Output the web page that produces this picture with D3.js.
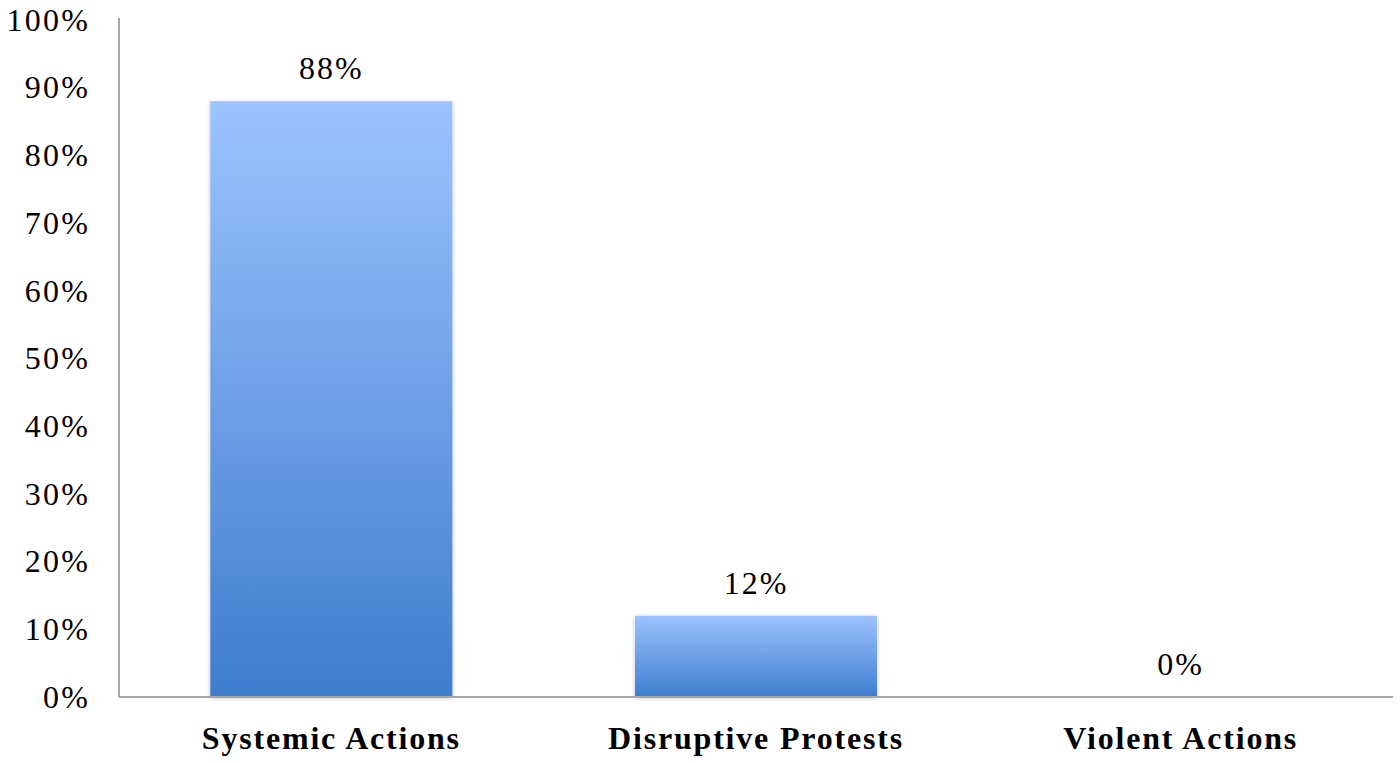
<!DOCTYPE html>
<html><head><meta charset="utf-8">
<script src="https://cdn.jsdelivr.net/npm/d3@7"></script>
<style>body{margin:0;background:#fff;}svg{display:block;}</style>
</head><body>
<svg id="c" width="1400" height="763"></svg>
<script>
const categories = ["Systemic Actions", "Disruptive Protests", "Violent Actions"];
const values = [0.88, 0.12, 0.0];
const yTicks = [0, 0.1, 0.2, 0.3, 0.4, 0.5, 0.6, 0.7, 0.8, 0.9, 1.0];

const svg = d3.select("#c");
const m = {left: 119, right: 1393, top: 20, bottom: 697};
const font = "'Liberation Serif', 'Times New Roman', serif";

const x = d3.scaleBand().domain(categories).range([m.left, m.right]).paddingInner(0.43).paddingOuter(0.215);
const y = d3.scaleLinear().domain([0, 1]).range([m.bottom, m.top]);

const defs = svg.append("defs");
const g = defs.append("linearGradient").attr("id", "bg").attr("x1", 0).attr("y1", 0).attr("x2", 0).attr("y2", 1);
g.append("stop").attr("offset", "0%").attr("stop-color", "#9dc3ff");
g.append("stop").attr("offset", "100%").attr("stop-color", "#3e7dce");
const f = defs.append("filter").attr("id", "sh").attr("x", "-10%").attr("y", "-10%").attr("width", "120%").attr("height", "120%");
f.append("feDropShadow").attr("dx", 0).attr("dy", 1).attr("stdDeviation", 2).attr("flood-color", "#000").attr("flood-opacity", 0.25);

// bars
svg.append("g").selectAll("rect").data(values).join("rect")
  .attr("x", (d, i) => x(categories[i]))
  .attr("y", d => y(d))
  .attr("width", x.bandwidth())
  .attr("height", d => y(0) - y(d))
  .attr("fill", "url(#bg)")
  .attr("filter", "url(#sh)")
  .style("display", d => d > 0 ? null : "none");

// axes
const yAxis = d3.axisLeft(y).tickValues(yTicks).tickFormat(d3.format(".0%")).tickSize(0).tickPadding(29);
const ya = svg.append("g").attr("transform", `translate(${m.left},0)`).call(yAxis);
ya.select(".domain").attr("d", `M0,${m.top - 2}V${m.bottom}`).attr("stroke", "#a6a6a6").attr("stroke-width", 2);
ya.selectAll("text").attr("font-family", font).attr("font-size", 32).attr("letter-spacing", 2.2).attr("fill", "#000");

const xAxis = d3.axisBottom(x).tickSize(0).tickPadding(29);
const xa = svg.append("g").attr("transform", `translate(0,${m.bottom})`).call(xAxis);
xa.select(".domain").attr("d", `M${m.left},0H${m.right}`).attr("stroke", "#a6a6a6").attr("stroke-width", 2);
xa.selectAll("text").attr("font-family", font).attr("font-size", 32).attr("font-weight", "bold").attr("letter-spacing", 1.8).attr("fill", "#000");

// value labels
svg.append("g").selectAll("text").data(values).join("text")
  .attr("x", (d, i) => x(categories[i]) + x.bandwidth() / 2)
  .attr("y", d => y(d) - 22)
  .attr("text-anchor", "middle")
  .attr("font-family", font).attr("font-size", 32).attr("letter-spacing", 2).attr("fill", "#000")
  .text(d => d3.format(".0%")(d));
</script>
</body></html>
